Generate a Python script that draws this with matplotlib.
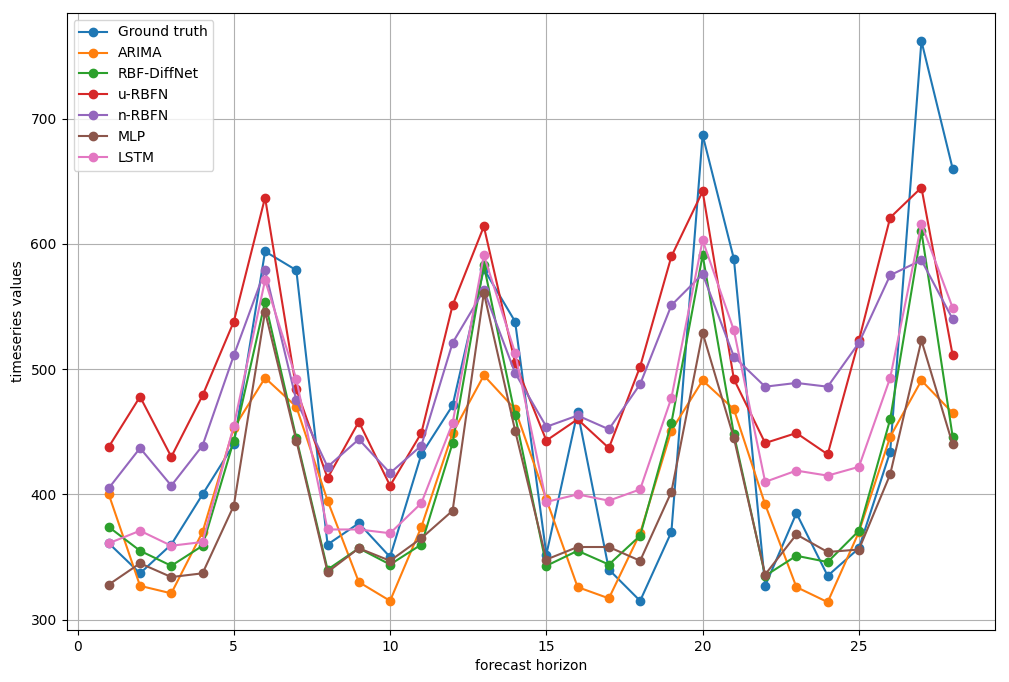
import numpy as np
import matplotlib
matplotlib.use('Agg')
import matplotlib.pyplot as plt

# horizonte de pronostico
horizon = np.arange(1, 29)

ground_truth = [361, 337, 360, 400, 440, 594, 579, 360, 377, 350, 432, 471, 580, 538,
                352, 466, 340, 315, 370, 687, 588, 327, 385, 335, 357, 434, 762, 660]
arima = [400, 327, 321, 370, 453, 493, 470, 395, 330, 315, 374, 449, 495, 468,
         396, 326, 317, 369, 451, 491, 468, 392, 326, 314, 370, 446, 491, 465]
rbf_diffnet = [374, 355, 343, 359, 443, 554, 445, 340, 357, 344, 360, 441, 583, 463,
               343, 355, 344, 367, 457, 591, 448, 335, 351, 346, 371, 460, 610, 446]
u_rbfn = [438, 478, 430, 479, 538, 637, 484, 413, 458, 407, 449, 551, 614, 505,
          443, 460, 437, 502, 590, 642, 492, 441, 449, 432, 523, 621, 645, 511]
n_rbfn = [405, 437, 407, 439, 511, 579, 475, 422, 444, 417, 439, 521, 563, 497,
          454, 463, 452, 488, 551, 576, 510, 486, 489, 486, 521, 575, 587, 540]
mlp = [328, 345, 334, 337, 391, 546, 443, 338, 357, 347, 365, 387, 561, 451,
       348, 358, 358, 347, 402, 529, 445, 336, 368, 354, 356, 416, 523, 440]
lstm = [361, 371, 359, 362, 455, 571, 492, 372, 372, 369, 393, 457, 591, 513,
        394, 400, 395, 404, 477, 603, 531, 410, 419, 415, 422, 493, 616, 549]

series = [ground_truth, arima, rbf_diffnet, u_rbfn, n_rbfn, mlp, lstm]
names = ['Ground truth', 'ARIMA', 'RBF-DiffNet', 'u-RBFN', 'n-RBFN', 'MLP', 'LSTM']

fig, ax = plt.subplots(figsize=(10.09, 6.82), dpi=100)
fig.subplots_adjust(left=0.066, right=0.986, bottom=0.076, top=0.981)

for vals, name in zip(series, names):
    ax.plot(horizon, vals, marker='o', label=name)

ax.grid(True)
ax.set_xlabel('forecast horizon')
ax.set_ylabel('timeseries values')
ax.legend(loc='upper left')

fig.savefig('out.png', dpi=100)
